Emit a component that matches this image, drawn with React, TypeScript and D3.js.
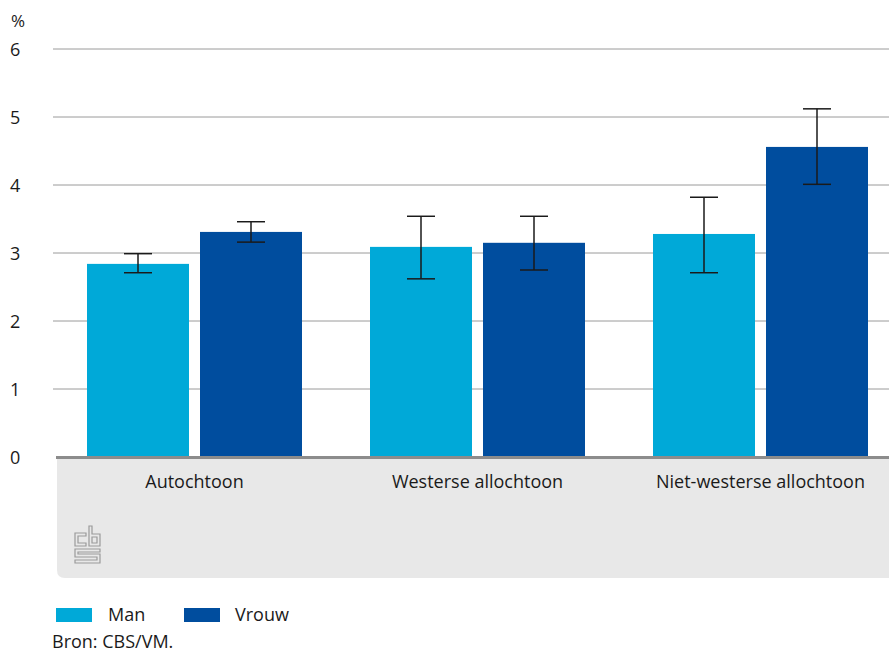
import React from "react";
import * as d3 from "d3";

const categories = ["Autochtoon", "Westerse allochtoon", "Niet-westerse allochtoon"];
const seriesNames = ["Man", "Vrouw"];
const manValues = [2.84, 3.09, 3.28];
const manLow = [2.71, 2.62, 2.71];
const manHigh = [2.99, 3.54, 3.82];
const vrouwValues = [3.31, 3.15, 4.56];
const vrouwLow = [3.16, 2.75, 4.01];
const vrouwHigh = [3.46, 3.54, 5.12];
const yTicks = [0, 1, 2, 3, 4, 5, 6];
const colors = ["#00A9D8", "#004D9E"];

const W = 889;
const H = 653;
const FONT = "'Open Sans', 'Noto Sans', sans-serif";
const FS = 18;

export default function App() {
  const x0 = d3.scaleBand<string>().domain(categories).range([53, 902]).paddingInner(0).paddingOuter(0);
  const x1 = d3.scaleBand<string>().domain(seriesNames).range([-107.5, 107.5]).paddingInner(11 / 113).paddingOuter(0);
  const y = d3.scaleLinear().domain([0, 6]).range([457, 49]);

  const data = [
    { name: "Man", values: manValues, low: manLow, high: manHigh, color: colors[0] },
    { name: "Vrouw", values: vrouwValues, low: vrouwLow, high: vrouwHigh, color: colors[1] },
  ];

  const cap = 14;

  return (
    <div style={{ position: "absolute", left: 0, top: 0, width: W, height: H }}>
      <svg width={W} height={H} style={{ display: "block", fontFamily: FONT }}>
        <rect x={0} y={0} width={W} height={H} fill="#ffffff" />
        {yTicks.map((t) => (
          <g key={t}>
            {t > 0 && <line x1={53} x2={W} y1={y(t)} y2={y(t)} stroke="#9a9a9a" strokeWidth={1} />}
            <text x={10} y={y(t) + 1} dy="0.36em" fontSize={FS} fill="#1a1a1a">
              {t}
            </text>
          </g>
        ))}
        <text x={11} y={21} dy="0.36em" fontSize={17} fill="#1a1a1a">%</text>

        <path d={`M57,459 H${W} V578 H65 Q57,578 57,570 Z`} fill="#e8e8e8" />

        {categories.map((c, i) => {
          const cx = (x0(c) as number) + x0.bandwidth() / 2;
          return (
            <g key={c}>
              {data.map((s) => {
                const bx = cx + (x1(s.name) as number);
                const bw = x1.bandwidth();
                const mx = bx + bw / 2;
                return (
                  <g key={s.name}>
                    <rect x={bx} y={y(s.values[i])} width={bw} height={y(0) - y(s.values[i])} fill={s.color} />
                    <line x1={mx} x2={mx} y1={y(s.high[i])} y2={y(s.low[i])} stroke="#1a1a1a" strokeWidth={1.5} />
                    <line x1={mx - cap} x2={mx + cap} y1={y(s.high[i])} y2={y(s.high[i])} stroke="#1a1a1a" strokeWidth={1.5} />
                    <line x1={mx - cap} x2={mx + cap} y1={y(s.low[i])} y2={y(s.low[i])} stroke="#1a1a1a" strokeWidth={1.5} />
                  </g>
                );
              })}
              <text x={cx} y={482} dy="0.36em" textAnchor="middle" fontSize={FS} fill="#1a1a1a">
                {c}
              </text>
            </g>
          );
        })}

        <rect x={56} y={y(0) - 1} width={W - 56} height={3} fill="#8c8c8c" />

        <g fill="none" stroke="#9a9a9a" strokeWidth={1.2}>
          <path d="M86,533 H75 V546 H86 V543 H78 V536 H86 Z" />
          <path d="M89,526 H92 V534 H100 V546 H89 Z M92,537 V543 H97 V537 Z" />
          <path d="M75,549 H100 V552 H78 V554 H100 V563 H75 V560 H97 V557 H75 Z" />
        </g>

        <rect x={56} y={608} width={36} height={14} fill={colors[0]} />
        <text x={108} y={615} dy="0.36em" fontSize={FS} fill="#1a1a1a">Man</text>
        <rect x={184} y={608} width={36} height={14} fill={colors[1]} />
        <text x={235} y={615} dy="0.36em" fontSize={FS} fill="#1a1a1a">Vrouw</text>
        <text x={52} y={642} dy="0.36em" fontSize={FS} fill="#1a1a1a">Bron: CBS/VM.</text>
      </svg>
    </div>
  );
}
